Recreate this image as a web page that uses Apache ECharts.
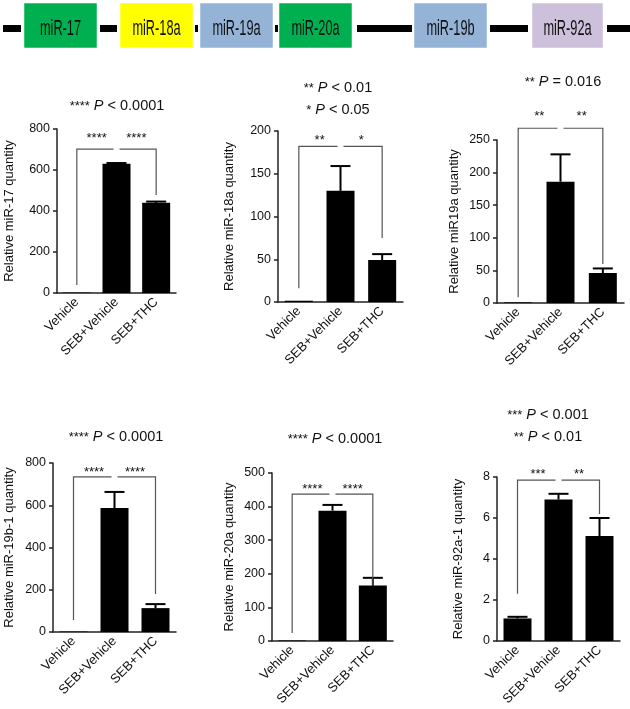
<!DOCTYPE html>
<html><head><meta charset="utf-8">
<script src="https://cdn.jsdelivr.net/npm/echarts@6/dist/echarts.min.js"></script>
<style>html,body{margin:0;padding:0;background:#fff}#c{width:630px;height:709px}</style>
</head><body><div id="c"></div>
<script>
// ---------- data ----------
const categories = ['Vehicle', 'SEB+Vehicle', 'SEB+THC'];
const genes = ['miR-17', 'miR-18a', 'miR-19a', 'miR-20a', 'miR-19b', 'miR-92a'];

const yNames = ['Relative miR-17 quantity', 'Relative miR-18a quantity', 'Relative miR19a quantity',
                'Relative miR-19b-1 quantity', 'Relative miR-20a quantity', 'Relative miR-92a-1 quantity'];
const yMax  = [800, 200, 250, 800, 500, 8];
const yStep = [200, 50, 50, 200, 100, 2];

const mir17    = [2, 630, 440];
const mir17Err = [2, 634, 446];
const mir18a    = [1.5, 130, 49];
const mir18aErr = [1.5, 159, 56];
const mir19a    = [1, 186, 46];
const mir19aErr = [1, 228, 53];
const mir19b    = [2, 587, 113];
const mir19bErr = [2, 663, 132];
const mir20a    = [1.5, 388, 165];
const mir20aErr = [1.5, 405, 188];
const mir92a    = [1.1, 6.9, 5.12];
const mir92aErr = [1.18, 7.18, 6.0];

// brackets: [level, left foot, right foot]
const bracket17  = [702, 39, 478];
const bracket18a = [182, 16, 75];
const bracket19a = [268, 9, 60];
const bracket19b = [734, 57, 180];
const bracket20a = [437, 24, 122];
const bracket92a = [7.85, 2.3, 6.2];

const stars17  = ['****', '****'];
const stars18a = ['**', '*'];
const stars19a = ['**', '**'];
const stars19b = ['****', '****'];
const stars20a = ['****', '****'];
const stars92a = ['***', '**'];

const titles17  = [['****', ' < 0.0001']];
const titles18a = [['**', ' < 0.01'], ['*', ' < 0.05']];
const titles19a = [['**', ' = 0.016']];
const titles19b = [['****', ' < 0.0001']];
const titles20a = [['****', ' < 0.0001']];
const titles92a = [['***', ' < 0.001'], ['**', ' < 0.01']];

const values   = [mir17, mir18a, mir19a, mir19b, mir20a, mir92a];
const errs     = [mir17Err, mir18aErr, mir19aErr, mir19bErr, mir20aErr, mir92aErr];
const brackets = [bracket17, bracket18a, bracket19a, bracket19b, bracket20a, bracket92a];
const stars    = [stars17, stars18a, stars19a, stars19b, stars20a, stars92a];
const titles   = [titles17, titles18a, titles19a, titles19b, titles20a, titles92a];

// ---------- layout ----------
const layout = [
  {left: 57,  top: 129, width: 119, height: 164, nameGap: 41, tx: 117, ty: [106], sg: 14},
  {left: 278, top: 131, width: 125, height: 171, nameGap: 42, tx: 338, ty: [88, 110], sg: 9},
  {left: 497, top: 140, width: 127, height: 163, nameGap: 36, tx: 563, ty: [82], sg: 15},
  {left: 53,  top: 463, width: 123, height: 169, nameGap: 37, tx: 116, ty: [437], sg: 8},
  {left: 272, top: 473, width: 121, height: 168, nameGap: 36, tx: 335, ty: [439], sg: 8},
  {left: 497, top: 477, width: 123, height: 164, nameGap: 32, tx: 548, ty: [415, 437], sg: 9}
];
const FONT = 'Liberation Sans, Arial, sans-serif';
const TXT = '#111';

const grids = [], xAxes = [], yAxes = [], series = [], titleArr = [];

layout.forEach((L, i) => {
  grids.push({left: L.left, top: L.top, width: L.width, height: L.height});
  xAxes.push({
    type: 'category', gridIndex: i, data: categories,
    axisLine: {lineStyle: {color: '#222', width: 1.5}},
    axisTick: {alignWithLabel: true, length: 4, lineStyle: {color: '#222', width: 1.5}},
    axisLabel: {rotate: 45, interval: 0, margin: 7, fontSize: 13, color: TXT, fontFamily: FONT}
  });
  yAxes.push({
    type: 'value', gridIndex: i, min: 0, max: yMax[i], interval: yStep[i],
    name: yNames[i], nameLocation: 'middle', nameGap: L.nameGap, nameRotate: 90,
    nameTextStyle: {fontSize: 13, color: TXT, fontFamily: FONT},
    axisLine: {show: true, lineStyle: {color: '#222', width: 1.5}},
    axisTick: {show: true, length: 4, lineStyle: {color: '#222', width: 1.5}},
    axisLabel: {fontSize: 12.5, color: TXT, margin: 7, fontFamily: FONT},
    splitLine: {show: false}
  });
  series.push({
    type: 'bar', xAxisIndex: i, yAxisIndex: i, data: values[i],
    barWidth: 28, itemStyle: {color: '#000'}, silent: true
  });
  series.push({
    type: 'custom', xAxisIndex: i, yAxisIndex: i, silent: true,
    encode: {x: 0, y: 1},
    data: values[i].map((v, k) => [k, v, errs[i][k]]),
    renderItem: function (params, api) {
      const x = api.value(0), v = api.value(1), e = api.value(2);
      if (!(e > v)) return null;
      const p1 = api.coord([x, v]), p2 = api.coord([x, e]);
      return {type: 'group', children: [
        {type: 'line', shape: {x1: p1[0], y1: p1[1], x2: p2[0], y2: p2[1]}, style: {stroke: '#000', lineWidth: 2}},
        {type: 'line', shape: {x1: p2[0] - 10, y1: p2[1], x2: p2[0] + 10, y2: p2[1]}, style: {stroke: '#000', lineWidth: 2}}
      ]};
    }
  });
  const st = stars[i], sg = L.sg;
  series.push({
    type: 'custom', xAxisIndex: i, yAxisIndex: i, silent: true, clip: false,
    encode: {x: 0, y: 1},
    data: [[1, brackets[i][0], brackets[i][1], brackets[i][2]]],
    renderItem: function (params, api) {
      const lvl = api.value(1), lo = api.value(2), ro = api.value(3);
      const a = api.coord([0, lo]), at = api.coord([0, lvl]), m = api.coord([1, lvl]);
      const bt = api.coord([2, lvl]), b = api.coord([2, ro]);
      const ls = {stroke: '#555', lineWidth: 1.2, fill: null};
      const ts = {font: '13px ' + FONT, fill: TXT, textAlign: 'center', textVerticalAlign: 'middle'};
      return {type: 'group', children: [
        {type: 'polyline', shape: {points: [a, at, [m[0] - 3, m[1]]]}, style: ls},
        {type: 'polyline', shape: {points: [[m[0] + 3, m[1]], bt, b]}, style: ls},
        {type: 'text', x: (at[0] + m[0]) / 2, y: m[1] - sg + 3, style: Object.assign({text: st[0]}, ts)},
        {type: 'text', x: (bt[0] + m[0]) / 2, y: m[1] - sg + 3, style: Object.assign({text: st[1]}, ts)}
      ]};
    }
  });
  titles[i].forEach((t, j) => {
    titleArr.push({
      text: '{s|' + t[0] + '} {i|P}{n|' + t[1] + '}',
      left: L.tx, top: L.ty[j], textAlign: 'center', textVerticalAlign: 'middle', padding: 0,
      textStyle: {fontSize: 14, fontWeight: 'normal', color: TXT, fontFamily: FONT,
        rich: {
          s: {fontSize: 13, color: TXT, fontFamily: FONT},
          i: {fontSize: 14.5, fontStyle: 'italic', color: TXT, fontFamily: FONT},
          n: {fontSize: 14.5, color: TXT, fontFamily: FONT}
        }}
    });
  });
});

// ---------- gene cluster diagram ----------
const geneBoxes = [[24, 97, '#00B050'], [120, 193, '#FFFF00'], [200, 273, '#95B3D7'],
                   [279, 352, '#00B050'], [414, 487, '#95B3D7'], [532, 603, '#CCC0DA']];
const lineSegs = [[3, 21], [100, 117], [195, 198], [275, 278], [357, 412], [490, 528], [607, 630]];
const graphics = [];
lineSegs.forEach(s => graphics.push({type: 'rect', shape: {x: s[0], y: 25, width: s[1] - s[0], height: 7}, style: {fill: '#000'}}));
geneBoxes.forEach((b, k) => {
  graphics.push({type: 'rect', shape: {x: b[0], y: 3, width: b[1] - b[0], height: 45}, style: {fill: b[2], stroke: 'rgba(255,255,255,0.5)', lineWidth: 1}});
  graphics.push({type: 'text', x: (b[0] + b[1]) / 2, y: 29, scaleX: 0.58,
    style: {text: genes[k], font: '22px ' + FONT, fill: '#111', textAlign: 'center', textVerticalAlign: 'middle'}});
});

const chart = echarts.init(document.getElementById('c'), null, {renderer: 'canvas'});
chart.setOption({
  backgroundColor: '#fff',
  animation: false,
  title: titleArr,
  grid: grids, xAxis: xAxes, yAxis: yAxes, series: series,
  graphic: graphics
});
</script>
</body></html>
